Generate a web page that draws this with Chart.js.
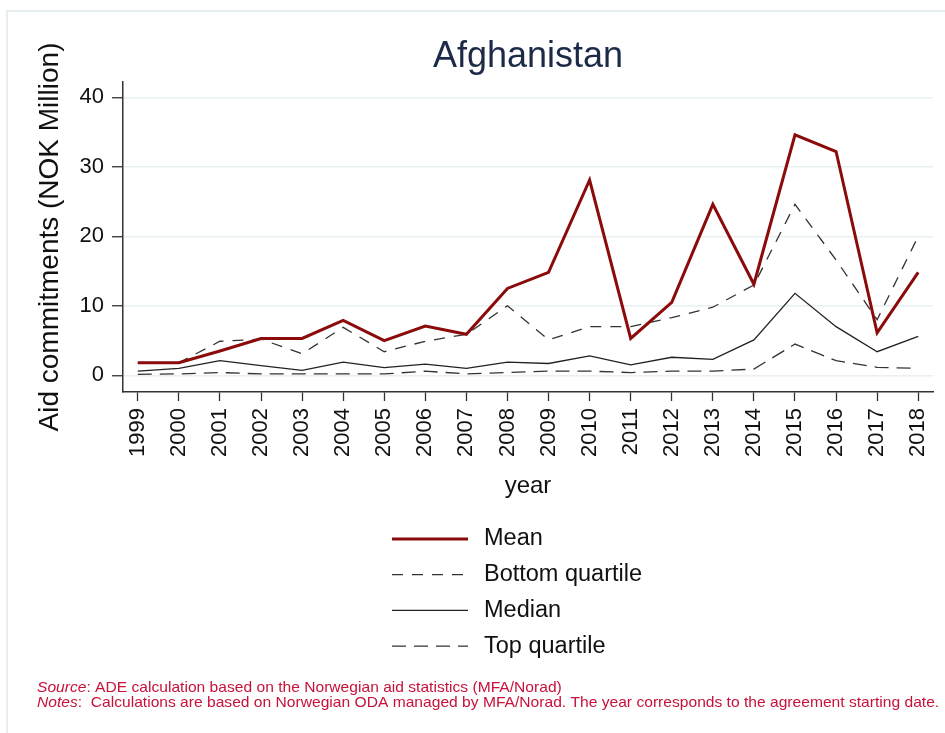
<!DOCTYPE html>
<html>
<head>
<script src="https://cdn.jsdelivr.net/npm/chart.js@4.4.0/dist/chart.umd.min.js"></script>
<style>
  body { margin: 0; background: #fff; }
</style>
</head>
<body>
<canvas id="myChart" width="945" height="733"></canvas>
<script>
  // Aid commitments per agreement, Afghanistan (NOK million)
  var years = [1999,2000,2001,2002,2003,2004,2005,2006,2007,2008,2009,2010,2011,2012,2013,2014,2015,2016,2017,2018];
  var meanVals   = [1.8,1.8,3.5,5.3,5.3,7.9,5.0,7.1,5.9,12.5,14.8,28.1,5.3,10.5,24.6,13.1,34.6,32.2,6.1,14.8];
  var bottomQVals = [1.8,1.8,4.9,5.2,3.1,6.9,3.4,4.9,5.9,10.0,5.1,7.0,7.0,8.3,9.8,13.0,24.6,16.6,8.0,20.0];
  var medianVals = [0.6,1.0,2.1,1.4,0.7,1.9,1.1,1.6,1.0,1.9,1.7,2.8,1.5,2.6,2.3,5.1,11.8,7.0,3.4,5.6];
  var topQVals   = [0.15,0.2,0.4,0.2,0.2,0.2,0.2,0.6,0.2,0.4,0.6,0.6,0.4,0.6,0.6,0.9,4.5,2.1,1.15,1.0];
  var yTicks = [0,10,20,30,40];

  var FONT = "'Liberation Sans', Arial, sans-serif";

  function toPoints(vals) {
    return years.map(function(yr, i){ return {x: yr, y: vals[i]}; });
  }

  // light frame round the graph region
  var framePlugin = {
    id: 'frame',
    beforeDraw: function(chart) {
      var ctx = chart.ctx;
      ctx.save();
      ctx.strokeStyle = '#e4eef0';
      ctx.lineWidth = 2;
      ctx.beginPath();
      ctx.moveTo(7, 733);
      ctx.lineTo(7, 11);
      ctx.lineTo(945, 11);
      ctx.stroke();
      ctx.restore();
    }
  };

  // italic lead word + plain rest, slightly widened
  function noteLine(ctx, lead, rest, x, y) {
    ctx.save();
    ctx.translate(x, y);
    ctx.scale(1.1, 1);
    ctx.font = 'italic 14.2px ' + FONT;
    ctx.fillText(lead, 0, 0);
    var w = ctx.measureText(lead).width;
    ctx.font = '14.2px ' + FONT;
    ctx.fillText(rest, w, 0);
    ctx.restore();
  }

  // one legend entry per row, left aligned, under the x axis
  var stackedLegend = {
    id: 'stackedLegend',
    afterDraw: function(chart) {
      var ctx = chart.ctx;
      var sets = chart.data.datasets;
      ctx.save();
      ctx.font = '23.5px ' + FONT;
      ctx.textBaseline = 'middle';
      ctx.textAlign = 'left';
      for (var i = 0; i < sets.length; i++) {
        var y = 539 + i * 35.7;
        ctx.strokeStyle = sets[i].borderColor;
        ctx.lineWidth = sets[i].borderWidth;
        ctx.setLineDash(sets[i].borderDash || []);
        ctx.beginPath();
        ctx.moveTo(392, y);
        ctx.lineTo(468, y);
        ctx.stroke();
        ctx.setLineDash([]);
        ctx.fillStyle = '#111';
        ctx.fillText(sets[i].label, 484, y);
      }

      // source and notes
      ctx.fillStyle = '#c8123a';
      noteLine(ctx, 'Source', ': ADE calculation based on the Norwegian aid statistics (MFA/Norad)', 37, 688);
      noteLine(ctx, 'Notes', ':  Calculations are based on Norwegian ODA managed by MFA/Norad. The year corresponds to the agreement starting date.', 37, 703);
      ctx.restore();
    }
  };

  var ctx = document.getElementById('myChart').getContext('2d');
  var myChart = new Chart(ctx, {
    type: 'line',
    data: {
      datasets: [
        { label: 'Mean', data: toPoints(meanVals), borderColor: '#8b0a0a', borderWidth: 3 },
        { label: 'Bottom quartile', data: toPoints(bottomQVals), borderColor: '#333', borderWidth: 1.3, borderDash: [11, 9] },
        { label: 'Median', data: toPoints(medianVals), borderColor: '#222', borderWidth: 1.3 },
        { label: 'Top quartile', data: toPoints(topQVals), borderColor: '#333', borderWidth: 1.3, borderDash: [14, 8] }
      ]
    },
    options: {
      responsive: false,
      animation: false,
      elements: { point: { radius: 0 }, line: { tension: 0 } },
      layout: { padding: { top: 12, left: 7, right: 12, bottom: 232.4 } },
      plugins: {
        legend: { display: false },
        tooltip: { enabled: false },
        title: {
          display: true,
          text: 'Afghanistan',
          fullSize: false,
          color: '#1c2a48',
          font: { family: FONT, size: 36, weight: 'normal', lineHeight: 1.2 },
          padding: { top: 23.4, bottom: 3.4 }
        }
      },
      scales: {
        x: {
          type: 'linear',
          min: 1998.64,
          max: 2018.36,
          afterBuildTicks: function(scale) {
            scale.ticks = years.map(function(v){ return {value: v}; });
          },
          afterFit: function(scale) {
            scale.height = 108.6;
            scale.paddingLeft = 0;
            scale.paddingRight = 0;
          },
          ticks: {
            color: '#111',
            font: { family: FONT, size: 22 },
            minRotation: 90,
            maxRotation: 90,
            padding: 7,
            callback: function(v) { return String(v); }
          },
          grid: { drawOnChartArea: false, tickLength: 9, tickColor: '#333', tickWidth: 1.3 },
          border: { color: '#333', width: 1.5 },
          title: {
            display: true,
            text: 'year',
            color: '#111',
            font: { family: FONT, size: 24, lineHeight: 1.2 },
            padding: { top: 0, bottom: 0 }
          }
        },
        y: {
          min: -2.4,
          max: 42.2,
          afterBuildTicks: function(scale) {
            scale.ticks = yTicks.map(function(v){ return {value: v}; });
          },
          afterFit: function(scale) {
            scale.width = 116;
            scale.paddingTop = 0;
            scale.paddingBottom = 0;
          },
          ticks: {
            color: '#111',
            font: { family: FONT, size: 22 },
            padding: 8
          },
          grid: { color: '#e8f0f2', lineWidth: 1.5, tickLength: 11, tickColor: '#333', tickWidth: 1.3 },
          border: { color: '#333', width: 1.5 },
          title: {
            display: true,
            text: 'Aid commitments (NOK Million)',
            color: '#111',
            font: { family: FONT, size: 28, lineHeight: 1.2 },
            padding: { top: 26.2, bottom: 0 }
          }
        }
      }
    },
    plugins: [framePlugin, stackedLegend]
  });
</script>
</body>
</html>
